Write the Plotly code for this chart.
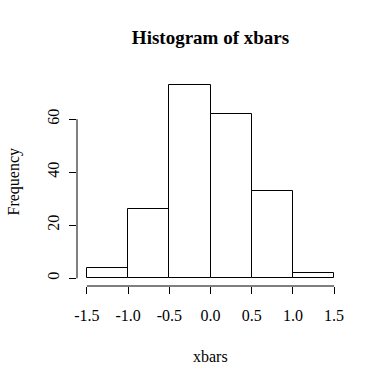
import plotly.graph_objects as go

# data
breaks = [-1.5, -1.0, -0.5, 0.0, 0.5, 1.0, 1.5]
counts = [4, 26, 73, 62, 33, 2]
x_ticks = [-1.5, -1.0, -0.5, 0.0, 0.5, 1.0, 1.5]
x_ticklabels = ["-1.5", "-1.0", "-0.5", "0.0", "0.5", "1.0", "1.5"]
y_ticks = [0, 20, 40, 60]
y_ticklabels = ["0", "20", "40", "60"]

mids = [(breaks[i] + breaks[i + 1]) / 2 for i in range(len(counts))]
widths = [breaks[i + 1] - breaks[i] for i in range(len(counts))]

FONT = "Liberation Serif, Times New Roman, serif"

fig = go.Figure()
fig.add_trace(go.Bar(
    x=mids, y=counts, width=widths,
    marker=dict(color="white", line=dict(color="black", width=1)),
    showlegend=False, hoverinfo="skip",
))

# R-style axis ranges (4% extension)
xr = breaks[-1] - breaks[0]
ymax = max(counts)
x_range = [breaks[0] - 0.04 * xr, breaks[-1] + 0.04 * xr]
y_range = [-0.04 * ymax, ymax * 1.04]

fig.update_layout(
    width=384, height=383,
    margin=dict(l=77, r=40, t=77, b=97),
    paper_bgcolor="white", plot_bgcolor="white",
    font=dict(family=FONT, size=16, color="black"),
    bargap=0,
    title=dict(text="<b>Histogram of xbars</b>", x=0.5, xref="paper",
               y=1 - 37 / 383, yref="container", yanchor="middle", xanchor="center",
               font=dict(family=FONT, size=19, color="black")),
    xaxis=dict(range=x_range, tickvals=x_ticks, ticktext=x_ticklabels,
               showgrid=False, zeroline=False, showline=False,
               ticks="outside", ticklen=7, tickwidth=1, tickcolor="black",
               ticklabelstandoff=8),
    yaxis=dict(range=y_range, tickvals=y_ticks, ticktext=y_ticklabels,
               showgrid=False, zeroline=False, showline=False,
               ticks="outside", ticklen=7, tickwidth=1, tickcolor="black",
               tickangle=-90, ticklabelstandoff=4),
    shapes=[
        dict(type="line", xref="x", yref="paper", x0=x_ticks[0], x1=x_ticks[-1],
             y0=0, y1=0, line=dict(color="black", width=1)),
        dict(type="line", xref="paper", yref="y", x0=0, x1=0,
             y0=y_ticks[0], y1=y_ticks[-1], line=dict(color="black", width=1)),
    ],
    annotations=[
        dict(text="xbars", xref="paper", yref="paper", x=0.5, y=0,
             yanchor="middle", xanchor="center", yshift=-70, showarrow=False,
             font=dict(family=FONT, size=16, color="black")),
        dict(text="Frequency", xref="paper", yref="paper", x=0, y=0.5,
             xanchor="center", yanchor="middle", xshift=-64, textangle=-90,
             showarrow=False, font=dict(family=FONT, size=16, color="black")),
    ],
)

fig.write_html("out.html", config={"displayModeBar": False},
               post_script="document.body.style.margin='0';document.body.style.overflow='hidden';")
